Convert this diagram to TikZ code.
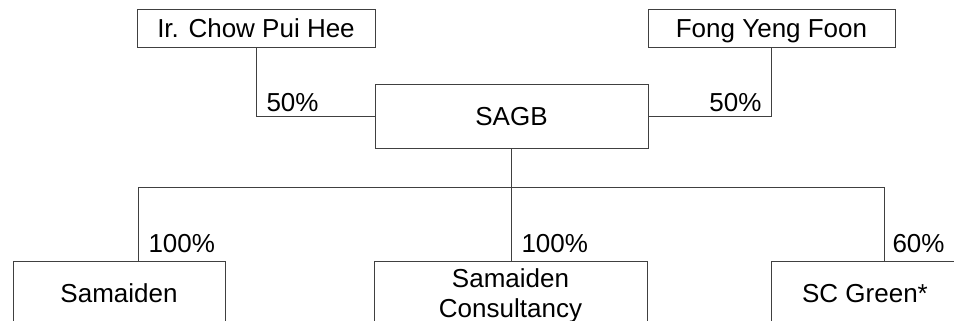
\documentclass[tikz,border=0pt]{standalone}
\usepackage{fontspec}
\setmainfont{Liberation Sans}
\usetikzlibrary{positioning}

\begin{document}
\begin{tikzpicture}[x=.75pt,y=-.75pt,line width=.75pt,
    entity/.style={draw=black!75,inner sep=0pt,align=center,font=\fontsize{19.5}{22.5}\selectfont},
    oneline/.style={entity,text height=13.5pt,text depth=0pt},
    share/.style={inner sep=0pt,font=\fontsize{19.5}{22.5}\selectfont},
    link/.style={draw=black!75}]
  \useasboundingbox (0,0) rectangle (954,321);
  \clip (0,0) rectangle (954,321);
  % shareholders
  \node[oneline,minimum width=178.5pt,minimum height=28.5pt] (ir) at (256,29) {Ir. Chow Pui Hee};
  \node[oneline,minimum width=185.25pt,minimum height=28.5pt] (fong) at (771.5,29) {Fong Yeng Foon};
  \node[oneline,minimum width=204.75pt,minimum height=48pt] (sagb) at (511.5,117) {SAGB};
  % subsidiaries
  \node[oneline,minimum width=159pt,minimum height=48pt] (samaiden) at (119,293) {Samaiden};
  \node[entity,text depth=0pt,minimum width=204.75pt,minimum height=48pt] (consult) at (510.5,293) {Samaiden\\Consultancy};
  \node[oneline,minimum width=141pt,minimum height=48pt] (scgreen) at (865,293) {SC Green*};
  % bus
  \coordinate (busl) at (138,187);
  \coordinate (busm) at (511.5,187);
  \coordinate (busr) at (884,187);
  \draw[link] (ir.south) |- (sagb.west);
  \draw[link] (fong.south) |- (sagb.east);
  \draw[link] (sagb.south) -- (busm);
  \draw[link] (busl) -- (busr);
  \foreach \c/\n in {busl/samaiden, busm/consult, busr/scgreen}
    \draw[link] (\c) -- (\c |- \n.north);
  % percentages
  \node[share,anchor=base west] (pir) at (266,112) {50\%};
  \node[share,anchor=base east] (pfong) at (762,112) {50\%};
  \node[share,anchor=base west] (psam) at (148,252) {100\%};
  \node[share,anchor=base west] (pcon) at (521,252) {100\%};
  \node[share,anchor=base west] (psc) at (892,252) {60\%};
\end{tikzpicture}
\end{document}
